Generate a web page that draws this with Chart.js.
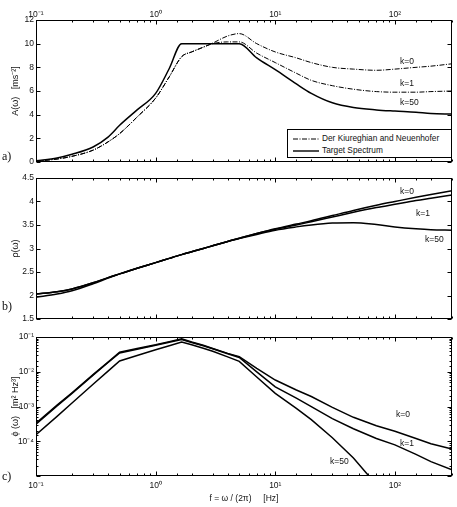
<!DOCTYPE html>
<html>
<head>
<meta charset="utf-8">
<script src="https://cdn.jsdelivr.net/npm/chart.js@4.4.1/dist/chart.umd.min.js"></script>
<style>
  body { margin: 0; background: #fff; }
  #fig { position: relative; width: 457px; height: 507px; background: #fff; font-family: "Liberation Sans", Arial, sans-serif; color: #111; }
  #fig canvas { position: absolute; left: 0; }
  .tag { position: absolute; left: 2px; font-family: "Liberation Serif", "Times New Roman", serif; font-size: 12px; line-height: 12px; }
  .k { position: absolute; font-size: 8.5px; line-height: 9px; }
  #legend { position: absolute; left: 287px; top: 129px; width: 163px; height: 27px; border: 1px solid #000; background: #fff; font-size: 8.3px; }
  #legend div { position: absolute; left: 5px; height: 10px; line-height: 10px; white-space: nowrap; }
  #legend svg { vertical-align: middle; margin-right: 3px; }
</style>
</head>
<body>
<div id="fig">
  <canvas id="accel" width="457" height="170" style="top:0"></canvas>
  <canvas id="rho" width="457" height="160" style="top:170px"></canvas>
  <canvas id="psd" width="457" height="177" style="top:330px"></canvas>

  <div class="tag" style="top:150px">a)</div>
  <div class="tag" style="top:300px">b)</div>
  <div class="tag" style="top:470px">c)</div>

  <div class="k" style="left:400px;top:57px">k=0</div>
  <div class="k" style="left:400px;top:79px">k=1</div>
  <div class="k" style="left:400px;top:98px">k=50</div>

  <div class="k" style="left:400px;top:187px">k=0</div>
  <div class="k" style="left:416px;top:209px">k=1</div>
  <div class="k" style="left:425px;top:235px">k=50</div>

  <div class="k" style="left:396px;top:410px">k=0</div>
  <div class="k" style="left:400px;top:439px">k=1</div>
  <div class="k" style="left:330px;top:457px">k=50</div>

  <div id="legend">
    <div style="top:3px"><svg width="26" height="4"><line x1="0" y1="2" x2="26" y2="2" stroke="#000" stroke-width="1" stroke-dasharray="5,1.5,1,1.5"/></svg>Der Kiureghian and Neuenhofer</div>
    <div style="top:15px"><svg width="26" height="4"><line x1="0" y1="2" x2="26" y2="2" stroke="#000" stroke-width="1.4"/></svg>Target Spectrum</div>
  </div>
</div>

<script>
// frequency grid f [Hz], shared by all three panels
const freq = [0.1, 0.15, 0.2, 0.3, 0.4, 0.5, 0.7, 1, 1.3, 1.65, 2, 2.5, 3, 4, 5, 7, 10, 15, 20, 30, 45, 70, 100, 150, 200, 300];

// a) response spectrum A(w) [m/s^2]
const accTarget = [0.1, 0.34, 0.65, 1.27, 2.1, 3.1, 4.4, 5.8, 7.9, 10, 10, 10, 10, 10, 10, 8.8, 7.8, 6.6, 5.8, 5.0, 4.6, 4.4, 4.3, 4.2, 4.1, 4.05];
const accK0 = [0.08, 0.25, 0.48, 1.0, 1.7, 2.4, 3.8, 5.4, 7.2, 8.9, 9.3, 9.7, 10.05, 10.65, 10.85, 10.0, 9.3, 8.8, 8.4, 8.0, 7.85, 7.75, 7.85, 8.0, 8.1, 8.3];
const accK1 = [0.08, 0.25, 0.48, 1.0, 1.7, 2.4, 3.8, 5.4, 7.2, 8.9, 9.3, 9.7, 10.0, 10.15, 10.15, 9.2, 8.4, 7.5, 6.9, 6.45, 6.15, 5.95, 5.9, 5.9, 5.95, 6.0];

// b) peak factor rho(w)
const rhoK0 = [2.03, 2.08, 2.14, 2.27, 2.38, 2.46, 2.58, 2.7, 2.79, 2.87, 2.93, 3.0, 3.06, 3.15, 3.22, 3.32, 3.42, 3.52, 3.59, 3.70, 3.81, 3.92, 4.0, 4.09, 4.15, 4.23];
const rhoK1 = [2.03, 2.08, 2.14, 2.27, 2.38, 2.46, 2.58, 2.7, 2.79, 2.87, 2.93, 3.0, 3.06, 3.15, 3.22, 3.32, 3.41, 3.50, 3.57, 3.67, 3.77, 3.87, 3.94, 4.02, 4.07, 4.14];
const rhoK50 = [1.96, 2.03, 2.10, 2.25, 2.37, 2.46, 2.58, 2.7, 2.79, 2.87, 2.93, 3.0, 3.06, 3.15, 3.21, 3.30, 3.39, 3.46, 3.50, 3.54, 3.55, 3.51, 3.46, 3.42, 3.40, 3.39];

// c) power spectral density phi(w) [m^2 Hz^3]
const psdK0 = [3.3e-4, 1.1e-3, 2.5e-3, 8.3e-3, 1.9e-2, 3.7e-2, 4.7e-2, 6.0e-2, 7.4e-2, 8.9e-2, 7.2e-2, 5.8e-2, 4.7e-2, 3.4e-2, 2.75e-2, 1.26e-2, 5.8e-3, 3.0e-3, 1.95e-3, 9.5e-4, 4.9e-4, 2.8e-4, 1.95e-4, 1.2e-4, 8.5e-5, 6.0e-5];
const psdK1 = [3.1e-4, 1.05e-3, 2.4e-3, 8.0e-3, 1.85e-2, 3.5e-2, 4.5e-2, 5.8e-2, 7.1e-2, 8.5e-2, 7.0e-2, 5.6e-2, 4.6e-2, 3.3e-2, 2.6e-2, 1.0e-2, 3.7e-3, 1.74e-3, 1.0e-3, 4.5e-4, 2.3e-4, 1.2e-4, 7.9e-5, 4.2e-5, 2.6e-5, 1.5e-5];
const psdK50 = [1.55e-4, 5.2e-4, 1.26e-3, 4.4e-3, 1.05e-2, 2.05e-2, 2.95e-2, 4.3e-2, 5.6e-2, 7.2e-2, 6.0e-2, 4.8e-2, 3.9e-2, 2.7e-2, 2.0e-2, 7.1e-3, 2.4e-3, 8.9e-4, 4.2e-4, 1.26e-4, 3.3e-5, 5.6e-6, 1e-6, null, null, null];

const xDecades = { '0.1': '10⁻¹', '1': '10⁰', '10': '10¹', '100': '10²' };
const psdDecades = { '0.1': '10⁻¹', '0.01': '10⁻²', '0.001': '10⁻³', '0.0001': '10⁻⁴' };

Chart.defaults.font.family = '"Liberation Sans", Arial, sans-serif';
Chart.defaults.font.size = 8.5;
Chart.defaults.color = '#111';
Chart.defaults.animation = false;

function pts(values) {
  return freq.map((f, i) => ({ x: f, y: values[i] }));
}

function isDecade(v) {
  const e = Math.log10(v);
  return Math.abs(e - Math.round(e)) < 1e-6;
}

function decadeLabel(map) {
  return v => {
    if (!isDecade(v)) return '';
    return map[String(Number(v.toPrecision(3)))] || '';
  };
}

// box around the plot plus inward tick marks on all four sides
const frame = {
  id: 'frame',
  afterDraw(chart) {
    const { ctx, chartArea: a, scales } = chart;
    const L = Math.round(a.left) + 0.5, R = Math.round(a.right) - 0.5;
    const T = Math.round(a.top) + 0.5, B = Math.round(a.bottom) - 0.5;
    ctx.save();
    ctx.strokeStyle = '#000';
    ctx.lineWidth = 1;
    ctx.beginPath();
    const xs = scales.x, ys = scales.y;
    xs.ticks.forEach(t => {
      const len = xs.type === 'logarithmic' && !isDecade(t.value) ? 2 : 4;
      const px = Math.round(xs.getPixelForValue(t.value)) + 0.5;
      ctx.moveTo(px, T); ctx.lineTo(px, T + len);
      ctx.moveTo(px, B); ctx.lineTo(px, B - len);
    });
    ys.ticks.forEach(t => {
      const len = ys.type === 'logarithmic' && !isDecade(t.value) ? 2 : 4;
      const py = Math.round(ys.getPixelForValue(t.value)) + 0.5;
      ctx.moveTo(L, py); ctx.lineTo(L + len, py);
      ctx.moveTo(R, py); ctx.lineTo(R - len, py);
    });
    ctx.stroke();
    ctx.strokeRect(L, T, R - L, B - T);
    ctx.restore();
  }
};

const noGrid = { display: false, drawTicks: false };

function xAxis(position, showLabels, height, pad, extra) {
  return Object.assign({
    type: 'logarithmic',
    position: position,
    min: 0.1,
    max: 300,
    grid: noGrid,
    border: { display: false },
    ticks: {
      display: showLabels,
      autoSkip: false,
      maxRotation: 0,
      padding: pad,
      callback: decadeLabel(xDecades)
    },
    afterFit: s => { s.height = height; }
  }, extra || {});
}

function yTitle(text) {
  return { display: true, text: text, font: { size: 9 }, padding: { top: 10, bottom: 0 } };
}

const plainNumber = v => String(Number(v.toFixed(2)));

const solid = { borderColor: '#000', borderWidth: 1.5, pointRadius: 0, fill: false };
const dashDot = { borderColor: '#000', borderWidth: 1, borderDash: [5, 1.5, 1, 1.5], pointRadius: 0, fill: false };

new Chart(document.getElementById('accel'), {
  type: 'line',
  data: {
    datasets: [
      Object.assign({ label: 'Der Kiureghian and Neuenhofer k=0', data: pts(accK0), cubicInterpolationMode: 'monotone' }, dashDot),
      Object.assign({ label: 'Der Kiureghian and Neuenhofer k=1', data: pts(accK1), cubicInterpolationMode: 'monotone' }, dashDot),
      Object.assign({ label: 'Target Spectrum', data: pts(accTarget), cubicInterpolationMode: 'monotone' }, solid)
    ]
  },
  options: {
    responsive: false,
    devicePixelRatio: 1,
    layout: { padding: { left: 0, right: 5, top: 0, bottom: 8 } },
    plugins: { legend: { display: false }, tooltip: { enabled: false } },
    scales: {
      x: xAxis('top', true, 20, 0),
      y: {
        min: 0,
        max: 12,
        grid: noGrid,
        border: { display: false },
        ticks: { stepSize: 2, padding: 2, callback: plainNumber },
        title: yTitle('A(ω)   [ms⁻²]'),
        afterFit: s => { s.width = 36; }
      }
    }
  },
  plugins: [frame]
});

new Chart(document.getElementById('rho'), {
  type: 'line',
  data: {
    datasets: [
      Object.assign({ label: 'k=0', data: pts(rhoK0), cubicInterpolationMode: 'monotone' }, solid),
      Object.assign({ label: 'k=1', data: pts(rhoK1), cubicInterpolationMode: 'monotone' }, solid),
      Object.assign({ label: 'k=50', data: pts(rhoK50), cubicInterpolationMode: 'monotone' }, solid)
    ]
  },
  options: {
    responsive: false,
    devicePixelRatio: 1,
    layout: { padding: { left: 0, right: 5, top: 8, bottom: 11 } },
    plugins: { legend: { display: false }, tooltip: { enabled: false } },
    scales: {
      x: xAxis('bottom', false, 0, 0),
      y: {
        min: 1.5,
        max: 4.5,
        grid: noGrid,
        border: { display: false },
        ticks: { stepSize: 0.5, padding: 2, callback: plainNumber },
        title: yTitle('ρ(ω)'),
        afterFit: s => { s.width = 36; }
      }
    }
  },
  plugins: [frame]
});

new Chart(document.getElementById('psd'), {
  type: 'line',
  data: {
    datasets: [
      Object.assign({ label: 'k=0', data: pts(psdK0) }, solid),
      Object.assign({ label: 'k=1', data: pts(psdK1) }, solid),
      Object.assign({ label: 'k=50', data: pts(psdK50) }, solid)
    ]
  },
  options: {
    responsive: false,
    devicePixelRatio: 1,
    layout: { padding: { left: 0, right: 5, top: 5, bottom: 0 } },
    plugins: { legend: { display: false }, tooltip: { enabled: false } },
    scales: {
      x: xAxis('bottom', true, 31, 5, {
        title: { display: true, text: 'f = ω / (2π)     [Hz]', font: { size: 8.5 }, padding: { top: 0, bottom: 3 } }
      }),
      y: {
        type: 'logarithmic',
        min: 1e-5,
        max: 1e-1,
        grid: noGrid,
        border: { display: false },
        ticks: { autoSkip: false, padding: 2, callback: decadeLabel(psdDecades) },
        title: yTitle('ϕ (ω)   [m² Hz³]'),
        afterFit: s => { s.width = 36; }
      }
    }
  },
  plugins: [frame]
});
</script>
</body>
</html>
